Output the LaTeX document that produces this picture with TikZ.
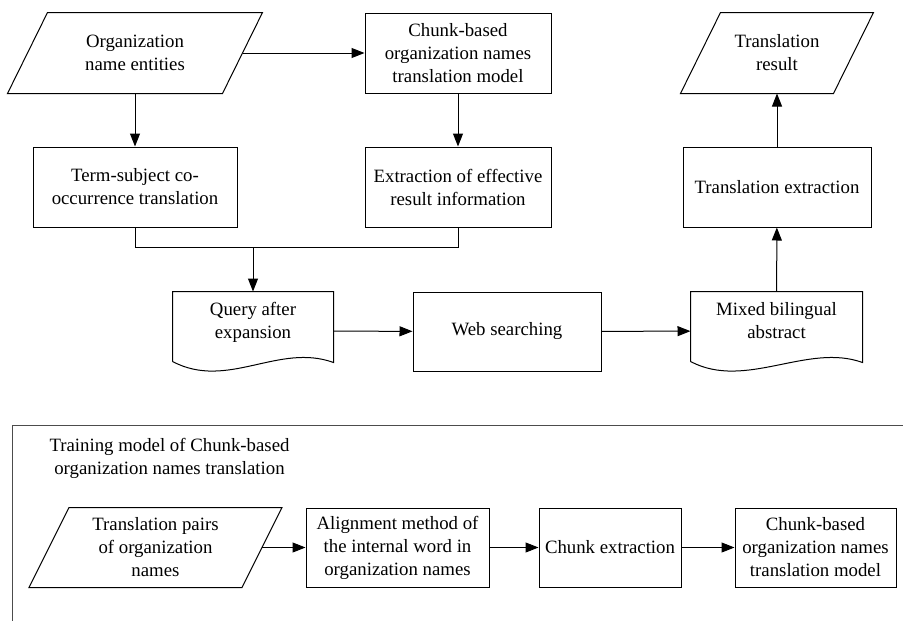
\documentclass[tikz,border=0pt]{standalone}
\usepackage{fontspec}
\setmainfont{Liberation Serif}
\usetikzlibrary{arrows.meta}

\tikzset{
  every node/.style={font=\fontsize{18.8}{23}\selectfont, align=center, inner sep=0pt},
  proc/.style={draw, minimum height=80pt},
  io/.style={minimum height=80pt},
  doc/.style={minimum height=78pt, text depth=22pt},
  flow/.style={-{Triangle[length=13pt,width=10pt]}}
}

\begin{document}
\begin{tikzpicture}[x=1pt,y=-1pt,line width=1pt]
\useasboundingbox (0,0) rectangle (903,621);
% online translation
\node[io,minimum width=214pt] (org) at (135,53) {Organization\\name entities};
\node[proc,minimum width=186pt] (chunk) at (458,53) {Chunk-based\\organization names\\translation model};
\node[proc,minimum width=204pt] (term) at (135,187) {Term-subject co-\\occurrence translation};
\node[proc,minimum width=186pt] (extr) at (458,187) {Extraction of effective\\result information};
\node[doc,minimum width=160pt] (query) at (253,331) {Query after\\expansion};
\node[proc,minimum width=188pt,minimum height=79pt] (web) at (507,331.5) {Web searching};
\node[doc,minimum width=171pt] (mixed) at (776.5,331) {Mixed bilingual\\abstract};
\node[proc,minimum width=188pt] (textr) at (777,187) {Translation extraction};
\node[io,minimum width=152pt] (res) at (777,53) {Translation\\result};
% training
\node[anchor=north west] (title) at (49,438) {Training model of Chunk-based\\organization names translation};
\node[io,minimum width=212pt,minimum height=79pt] (pairs) at (155.5,547.5) {Translation pairs\\of organization\\names};
\node[proc,minimum width=183pt,minimum height=79pt] (align) at (397.5,547.5) {Alignment method of\\the internal word in\\organization names};
\node[proc,minimum width=142pt,minimum height=79pt] (chext) at (610,547.5) {Chunk extraction};
\node[proc,minimum width=161pt,minimum height=79pt] (cmodel) at (815.5,547.5) {Chunk-based\\organization names\\translation model};

% slanted and wavy outlines
\foreach \n in {org,res,pairs}
  \draw ([xshift=20pt]\n.north west) -- ([xshift=20pt]\n.north east)
     -- ([xshift=-20pt]\n.south east) -- ([xshift=-20pt]\n.south west) -- cycle;
\foreach \n in {query,mixed}
  \draw ([yshift=9pt]\n.south west) -- (\n.north west) -- (\n.north east) -- ([yshift=8pt]\n.south east)
     .. controls ([xshift=-55pt,yshift=28pt]\n.south east) and ([xshift=55pt,yshift=-20pt]\n.south west)
     .. ([yshift=9pt]\n.south west);

% connectors
\draw[flow] (org) -- (chunk);
\draw[flow] (org) -- (term);
\draw[flow] (chunk) -- (extr);
\path (term.south) ++(0,20) coordinate (jl);
\draw (term.south) -- (jl) -| (extr.south);
\draw[flow] (jl -| query.north) -- (query.north);
\draw[flow] (query) -- (web);
\draw[flow] (web) -- (mixed);
\draw[flow] (mixed) -- (textr);
\draw[flow] (textr) -- (res);
\draw[flow] (pairs) -- (align);
\draw[flow] (align) -- (chext);
\draw[flow] (chext) -- (cmodel);

% frame of the training part
\draw[black!70] (12,621) -- (12,425) -- (903,425);
\end{tikzpicture}
\end{document}
